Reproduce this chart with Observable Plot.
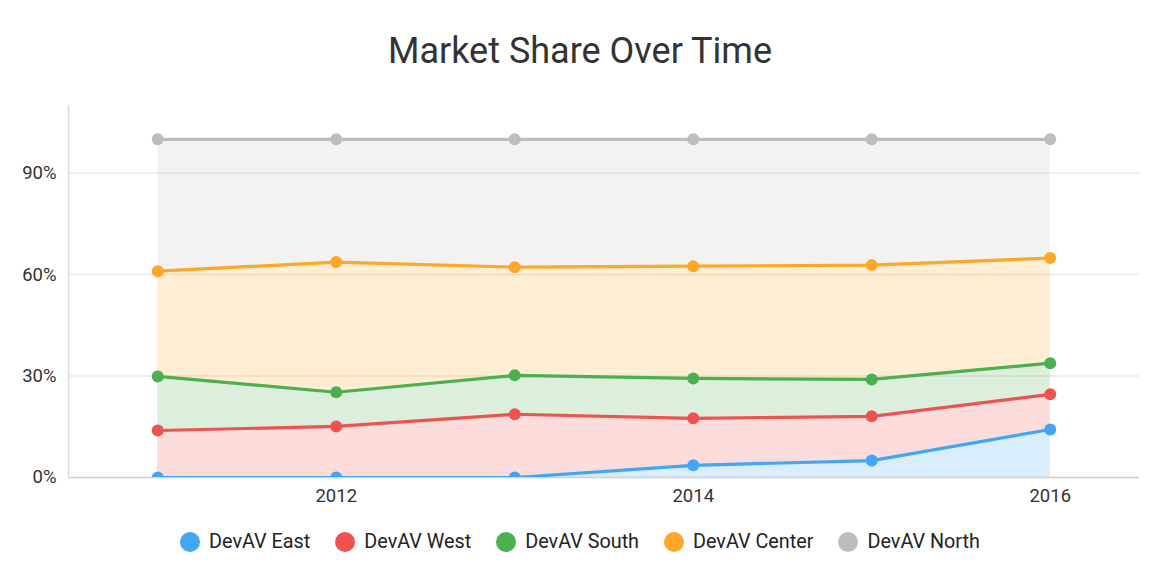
<!DOCTYPE html>
<html>
<head>
<meta charset="utf-8">
<script src="https://cdn.jsdelivr.net/npm/d3@7"></script>
<script src="https://cdn.jsdelivr.net/npm/@observablehq/plot@0.6"></script>
<style>
  html, body { margin: 0; padding: 0; background: #fff; }
  body { width: 1160px; height: 576px; overflow: hidden; font-family: Roboto, "Noto Sans", sans-serif; }
  #title { height: 90px; line-height: 102px; text-align: center; font-size: 36px; color: #333; font-weight: 400; }
  #chart svg { display: block; }
  #legend { display: flex; justify-content: center; align-items: center; margin-top: 10px; font-size: 19.8px; color: #232323; }
  .item { display: flex; align-items: center; margin: 0 12.5px; }
  .sw { width: 20px; height: 20px; border-radius: 50%; margin-right: 9px; }
</style>
</head>
<body>
<div id="title">Market Share Over Time</div>
<div id="chart"></div>
<div id="legend"></div>
<script>
const years = [2011, 2012, 2013, 2014, 2015, 2016];
const seriesNames = ["DevAV East", "DevAV West", "DevAV South", "DevAV Center", "DevAV North"];
const seriesColors = ["#42a5f5", "#ef5350", "#4caf50", "#ffa726", "#bdbdbd"];
// market share per series (%), per year
const east   = [0, 0, 0, 3.6, 5.0, 14.2];
const west   = [13.9, 15.1, 18.7, 13.9, 13.1, 10.4];
const south  = [16.0, 10.1, 11.5, 11.8, 10.9, 9.2];
const center = [31.1, 38.5, 32.0, 33.2, 33.8, 31.1];
const north  = [39.0, 36.3, 37.8, 37.5, 37.2, 35.1];
const yTicks = [0, 0.3, 0.6, 0.9];
const xTicks = [2012, 2014, 2016];

const seriesValues = [east, west, south, center, north];
const data = [];
seriesNames.forEach((name, i) => {
  years.forEach((yr, j) => data.push({ year: yr, series: name, value: seriesValues[i][j] }));
});

const color = { domain: seriesNames, range: seriesColors };

const chart = Plot.plot({
  width: 1160,
  height: 430,
  marginTop: 15,
  marginBottom: 43,
  marginLeft: 68,
  marginRight: 21,
  style: { fontFamily: "Roboto, 'Noto Sans', sans-serif", fontSize: "18.5px", color: "#333", background: "#fff" },
  x: { domain: [2010.5, 2016.5], ticks: xTicks, tickFormat: d => String(d), tickSize: 0, tickPadding: 11, label: null },
  y: { domain: [0, 1.1], ticks: yTicks, tickFormat: d => Math.round(d * 100) + "%", tickSize: 0, tickPadding: 12, label: null },
  color,
  marks: [
    Plot.gridY(yTicks, { stroke: "#eaeaea", strokeOpacity: 1, strokeWidth: 1.5 }),
    Plot.areaY(data, Plot.stackY({ x: "year", y: "value", z: "series", fill: "series", fillOpacity: 0.2, offset: "normalize", order: null })),
    Plot.ruleX([2010.5], { y1: 0, y2: 1.1, stroke: "#dddddd", strokeWidth: 1.5 }),
    Plot.ruleY([0], { stroke: "#d3d3d3", strokeWidth: 1.5 }),
    Plot.lineY(data, Plot.stackY2({ x: "year", y: "value", z: "series", stroke: "series", strokeWidth: 3.2, offset: "normalize", order: null, clip: true })),
    Plot.dot(data, Plot.stackY2({ x: "year", y: "value", z: "series", fill: "series", r: 6, offset: "normalize", order: null, clip: true })),
    Plot.axisY({ ticks: yTicks, tickFormat: d => Math.round(d * 100) + "%", tickSize: 0, tickPadding: 12, fill: "#333" }),
    Plot.axisX({ ticks: xTicks, tickFormat: d => String(d), tickSize: 0, tickPadding: 11, fill: "#333" })
  ]
});
document.getElementById("chart").appendChild(chart);

const legend = document.getElementById("legend");
seriesNames.forEach((name, i) => {
  const it = document.createElement("div");
  it.className = "item";
  const sw = document.createElement("div");
  sw.className = "sw";
  sw.style.background = seriesColors[i];
  const t = document.createElement("span");
  t.textContent = name;
  it.appendChild(sw);
  it.appendChild(t);
  legend.appendChild(it);
});
</script>
</body>
</html>
